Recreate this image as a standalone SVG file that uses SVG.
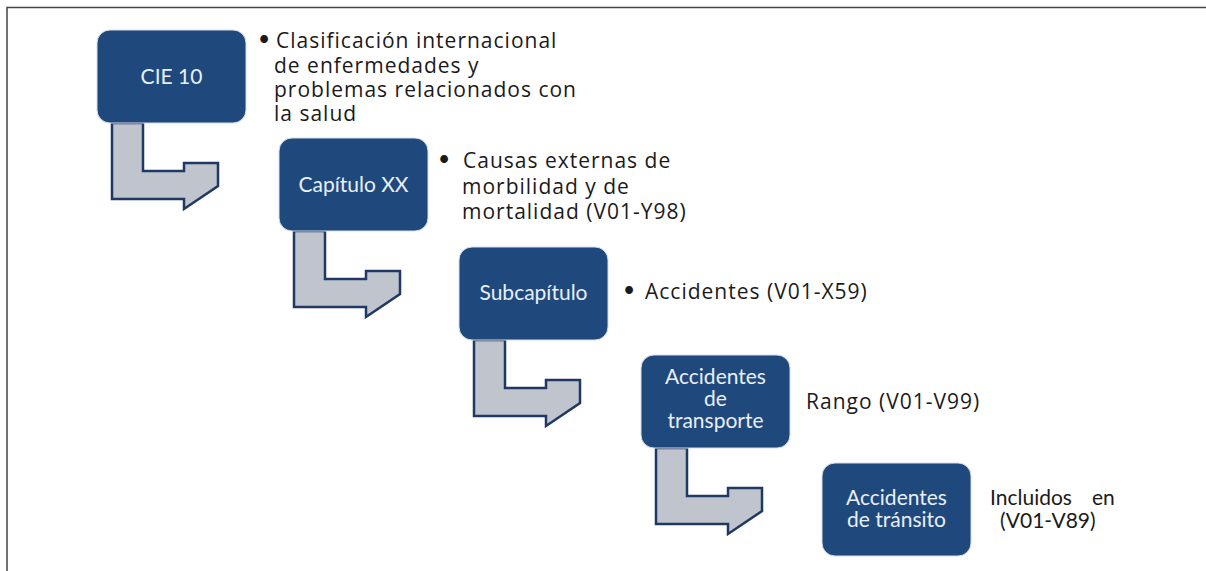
<svg xmlns="http://www.w3.org/2000/svg" width="1206" height="571" viewBox="0 0 1206 571">
<style>
.box{fill:#1f497d;stroke:#d6dde8;stroke-width:1}
.bt{font-family:Lato,"Open Sans",sans-serif;font-size:21px;fill:#e9eff7;text-anchor:middle}
.tx{font-family:"Open Sans",Lato,sans-serif;font-size:21px;letter-spacing:1px;fill:#1a1a1a}
.tl{font-family:Lato,"Open Sans",sans-serif;font-size:21px;fill:#1a1a1a}
.arr{fill:#c0c4cd;stroke:#1f3864;stroke-width:2.5;stroke-linejoin:miter}
.frame{stroke:#444;stroke-width:1.5;fill:none}
</style>
<rect x="0" y="0" width="1206" height="571" fill="#ffffff"/>
<path class="frame" d="M7,571 V7.5 H1206"/>
<g id="connectors">
<path class="arr" d="M112,123 H143 V171 H184 V163 H218 L218,186 L184,209 V199 H112 Z"/>
<path class="arr" d="M294,231 H325 V279 H366 V271 H400 L400,294 L366,317 V307 H294 Z"/>
<path class="arr" d="M474,340 H505 V388 H546 V380 H580 L580,403 L546,426 V416 H474 Z"/>
<path class="arr" d="M656,448 H687 V496 H728 V488 H762 L762,511 L728,534 V524 H656 Z"/>
</g>
<g id="n1"><rect class="box" x="97" y="30" width="149" height="93" rx="13"/><text class="bt" x="171.5" y="84">CIE 10</text></g>
<g id="n2"><rect class="box" x="279" y="138" width="149" height="93" rx="13"/><text class="bt" x="353.5" y="192">Capítulo XX</text></g>
<g id="n3"><rect class="box" x="459" y="247" width="149" height="93" rx="13"/><text class="bt" x="533.5" y="300">Subcapítulo</text></g>
<g id="n4"><rect class="box" x="641" y="355" width="149" height="93" rx="13"/><text class="bt"><tspan x="715.5" y="384">Accidentes</tspan><tspan x="715.5" y="406">de</tspan><tspan x="715.5" y="428">transporte</tspan></text></g>
<g id="n5"><rect class="box" x="822" y="463" width="149" height="93" rx="13"/><text class="bt"><tspan x="896.5" y="505">Accidentes</tspan><tspan x="896.5" y="527">de tránsito</tspan></text></g>
<g id="t1"><text class="tl" x="258" y="46">•</text><text class="tx"><tspan x="276" y="48">Clasificación internacional</tspan><tspan x="274" y="72.5">de enfermedades y</tspan><tspan x="274" y="97">problemas relacionados con</tspan><tspan x="274" y="121">la salud</tspan></text></g>
<g id="t2"><text class="tl" x="438" y="166">•</text><text class="tx"><tspan x="463" y="168">Causas externas de</tspan><tspan x="462" y="193.5">morbilidad y de</tspan><tspan x="462" y="219">mortalidad (V01-Y98)</tspan></text></g>
<g id="t3"><text class="tl" x="623" y="297">•</text><text class="tx" x="645" y="299">Accidentes (V01-X59)</text></g>
<g id="t4"><text class="tx" x="806" y="409">Rango (V01-V99)</text></g>
<g id="t5"><text class="tl" x="990" y="505">Incluidos<tspan dx="20">en</tspan></text><text class="tl" x="1000" y="528">(V01-V89)</text></g>
</svg>
